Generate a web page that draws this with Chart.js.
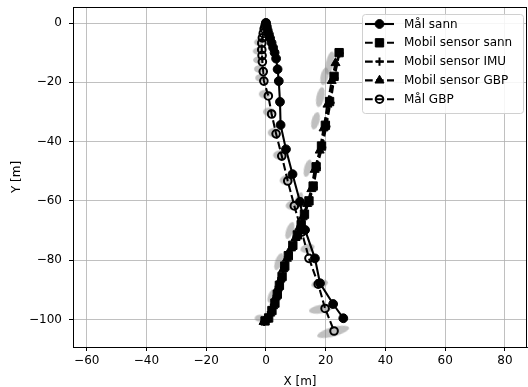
<!DOCTYPE html>
<html>
<head>
<meta charset="utf-8">
<script src="https://cdn.jsdelivr.net/npm/chart.js@4/dist/chart.umd.min.js"></script>
<style>
html,body{margin:0;padding:0;background:#fff;}
#wrap{width:528px;height:387px;position:relative;}
</style>
</head>
<body>
<div id="wrap"><canvas id="c" width="528" height="387"></canvas></div>
<script>
// ---- data (metres) ----
const xTicks = [-60, -40, -20, 0, 20, 40, 60, 80];
const yTicks = [-100, -80, -60, -40, -20, 0];

const labels = ["Mål sann", "Mobil sensor sann", "Mobil sensor IMU", "Mobil sensor GBP", "Mål GBP"];

const malSannX = [0, 0.3, 0.6, 1.0, 1.4, 1.9, 2.4, 2.9, 3.4, 3.9, 4.3, 4.7, 4.9, 6.7, 8.9, 11.4, 13.1, 16.4, 18.1, 22.5, 25.9];
const malSannY = [0, -1.2, -2.5, -3.8, -5.2, -6.7, -8.3, -10.0, -12.0, -15.6, -19.6, -26.6, -34.4, -42.6, -51.0, -60.3, -69.8, -79.4, -87.8, -94.8, -99.6];

const sensSannX = [24.5, 22.8, 21.3, 19.9, 18.6, 16.8, 15.8, 14.4, 12.9, 11.8, 10.5, 9.0, 7.5, 6.3, 5.4, 4.5, 3.8, 3.0, 2.0, 0.9, -0.3];
const sensSannY = [-10.0, -18.0, -26.5, -34.5, -41.5, -48.5, -55.0, -60.0, -64.5, -68.0, -71.5, -75.0, -78.5, -82.0, -85.5, -88.5, -91.5, -94.5, -97.0, -99.5, -100.5];

const sensImuX = [24.6, 22.9, 21.6, 20.2, 18.8, 17.0, 15.9, 14.3, 12.8, 11.6, 10.3, 8.9, 7.4, 6.1, 5.2, 4.3, 3.6, 2.7, 1.7, 0.6, -0.6];
const sensImuY = [-10.2, -18.6, -26.9, -34.9, -42.0, -49.0, -55.5, -60.6, -65.0, -68.6, -72.0, -75.6, -79.0, -82.6, -86.0, -89.0, -92.0, -95.0, -97.5, -99.8, -100.8];

const sensGbpX = [23.3, 22.0, 20.6, 19.3, 18.0, 16.3, 15.2, 13.8, 12.3, 11.2, 9.9, 8.4, 7.0, 5.8, 4.9, 4.0, 3.3, 2.4, 1.4, 0.3, -0.8];
const sensGbpY = [-13.5, -19.5, -27.5, -35.5, -43.0, -49.5, -56.0, -61.0, -65.5, -69.0, -72.5, -76.0, -79.5, -83.0, -86.5, -89.5, -92.5, -95.5, -98.0, -100.0, -100.8];

const malGbpX = [0, -0.3, -0.6, -0.9, -1.2, -1.4, -1.4, -1.3, -1.2, -0.9, -0.7, 0.8, 1.9, 3.4, 5.3, 7.3, 9.5, 12.0, 14.4, 17.5, 19.8, 22.8];
const malGbpY = [0, -1.0, -2.0, -3.5, -5.0, -6.8, -9.0, -11.0, -13.1, -16.4, -19.6, -24.6, -30.7, -37.4, -44.9, -53.3, -61.7, -70.5, -79.4, -88.1, -96.3, -103.9];

// uncertainty ellipses: centre, semi-axes (m), tilt (deg)
const ellX = [-2.4, -2.6, -2.5, -2.2, -1.8, -0.4, 1.0, 2.6, 4.6, 6.8, 9.0, 11.6, 13.9, 18.0, 18.4, 22.5, 21.4, 19.6, 18.2, 16.6, 14.0, 11.0, 8.0, 4.3, 2.0, -2.0];
const ellY = [-6.5, -9.5, -12.5, -15.5, -18.5, -24.0, -30.0, -37.0, -44.5, -53.0, -61.5, -70.0, -76.0, -88.0, -96.5, -104.2, -13.5, -18.0, -25.0, -33.0, -49.0, -60.0, -70.0, -80.5, -92.0, -99.6];
const ellA = [1.6, 1.8, 1.8, 1.8, 1.8, 2.0, 2.0, 2.0, 2.2, 2.2, 2.4, 2.6, 2.4, 2.8, 4.0, 5.5, 1.3, 1.3, 1.3, 1.3, 1.2, 1.2, 1.2, 1.2, 1.2, 1.8];
const ellB = [1.2, 1.2, 1.2, 1.3, 1.3, 1.4, 1.4, 1.5, 1.5, 1.6, 1.6, 1.6, 1.4, 1.4, 1.4, 1.6, 4.0, 3.0, 3.5, 3.0, 3.0, 3.0, 3.0, 3.0, 2.5, 1.2];
const ellAng = [0, 0, 0, 0, 0, 0, 0, 0, -5, -5, -5, -10, -15, -10, -10, -15, 12, 12, 12, 15, 15, 18, 20, 20, 25, 0];

function pts(xs, ys) { return xs.map((x, i) => ({x: x, y: ys[i]})); }
function fmt(v) { return v < 0 ? '\u2212' + Math.abs(v) : String(v); }

const ellipseCache = {};
function ellipseStyle(ctx) {
  if (ctx.type !== 'data') return 'circle';
  const sx = ctx.chart.scales.x, sy = ctx.chart.scales.y;
  const kx = Math.abs(sx.getPixelForValue(1) - sx.getPixelForValue(0));
  const ky = Math.abs(sy.getPixelForValue(1) - sy.getPixelForValue(0));
  const i = ctx.dataIndex;
  const w = Math.max(2, 2 * ellA[i] * kx), h = Math.max(2, 2 * ellB[i] * ky);
  const key = i + ':' + w.toFixed(1) + ':' + h.toFixed(1);
  if (ellipseCache[key]) return ellipseCache[key];
  const cv = document.createElement('canvas');
  cv.width = Math.ceil(w) + 2; cv.height = Math.ceil(h) + 2;
  const g = cv.getContext('2d');
  g.fillStyle = 'rgba(140,140,140,0.55)';
  g.beginPath();
  g.ellipse(cv.width / 2, cv.height / 2, w / 2, h / 2, 0, 0, Math.PI * 2);
  g.fill();
  ellipseCache[key] = cv;
  return cv;
}

const LW = 2.08;
const DASH = [7.7, 3.3];
const FONT = {family: '"DejaVu Sans"', size: 12};

const datasets = [
  {label: labels[0], data: pts(malSannX, malSannY), showLine: true, borderColor: '#000', borderWidth: LW,
   pointStyle: 'circle', pointRadius: 4.4, pointBackgroundColor: '#000', pointBorderColor: '#000', pointBorderWidth: 1, order: 5},
  {label: labels[1], data: pts(sensSannX, sensSannY), showLine: true, borderColor: '#000', borderWidth: LW, borderDash: DASH,
   pointStyle: 'rect', pointRadius: 5.9, pointBackgroundColor: '#000', pointBorderColor: '#000', pointBorderWidth: 1, order: 4},
  {label: labels[2], data: pts(sensImuX, sensImuY), showLine: true, borderColor: '#000', borderWidth: LW, borderDash: DASH,
   pointStyle: 'cross', pointRadius: 4.2, pointBackgroundColor: '#000', pointBorderColor: '#000', pointBorderWidth: 2, order: 3},
  {label: labels[3], data: pts(sensGbpX, sensGbpY), showLine: true, borderColor: '#000', borderWidth: LW, borderDash: DASH,
   pointStyle: 'triangle', pointRadius: 5.2, pointBackgroundColor: '#000', pointBorderColor: '#000', pointBorderWidth: 1, order: 2},
  {label: labels[4], data: pts(malGbpX, malGbpY), showLine: true, borderColor: '#000', borderWidth: LW, borderDash: DASH,
   pointStyle: 'circle', pointRadius: 3.8, pointBackgroundColor: 'rgba(0,0,0,0)', pointBorderColor: '#000', pointBorderWidth: 2, order: 1},
  {label: 'ellipses', data: pts(ellX, ellY), showLine: false, pointStyle: ellipseStyle, pointRadius: 3,
   rotation: (ctx) => (ctx.type === 'data' ? ellAng[ctx.dataIndex] : 0), order: 10}
];

const framePlugin = {
  id: 'frame',
  afterDatasetsDraw(chart) {
    const {ctx, chartArea: a} = chart;
    ctx.save();
    ctx.strokeStyle = '#000';
    ctx.lineWidth = 1;
    ctx.strokeRect(Math.round(a.left) + 0.5, Math.round(a.top) + 0.5, Math.round(a.right - a.left) - 1, Math.round(a.bottom - a.top));
    ctx.restore();
  }
};

const legendPlugin = {
  id: 'mplLegend',
  afterDraw(chart) {
    const ctx = chart.ctx;
    const a = chart.chartArea;
    const boxR = a.right - 4, boxT = a.top + 7;
    const boxW = 161, rowH = 18.8, boxH = 99;
    const boxL = boxR - boxW;
    ctx.save();
    ctx.fillStyle = 'rgba(255,255,255,0.85)';
    ctx.strokeStyle = '#d0d0d0';
    ctx.lineWidth = 1;
    ctx.beginPath();
    if (ctx.roundRect) ctx.roundRect(boxL + 0.5, boxT + 0.5, boxW, boxH, 3); else ctx.rect(boxL + 0.5, boxT + 0.5, boxW, boxH);
    ctx.fill(); ctx.stroke();
    ctx.font = '12px "DejaVu Sans"';
    ctx.textBaseline = 'middle';
    for (let i = 0; i < 5; i++) {
      const ds = chart.data.datasets[i];
      const y = boxT + 10 + i * rowH;
      const x0 = boxL + 3, x1 = boxL + 32, xm = (x0 + x1) / 2;
      ctx.strokeStyle = '#000';
      ctx.lineWidth = LW;
      ctx.setLineDash(ds.borderDash || []);
      ctx.beginPath(); ctx.moveTo(x0, y); ctx.lineTo(x1, y); ctx.stroke();
      ctx.setLineDash([]);
      ctx.fillStyle = ds.pointBackgroundColor;
      ctx.strokeStyle = ds.pointBorderColor;
      ctx.lineWidth = ds.pointBorderWidth;
      Chart.helpers.drawPoint(ctx, {pointStyle: ds.pointStyle, radius: ds.pointRadius, rotation: 0, borderWidth: ds.pointBorderWidth}, xm, y);
      ctx.fillStyle = '#000';
      ctx.fillText(ds.label, boxL + 42, y + 0.5);
    }
    ctx.restore();
  }
};

new Chart(document.getElementById('c'), {
  type: 'scatter',
  data: {datasets: datasets},
  options: {
    responsive: false,
    animation: false,
    events: [],
    layout: {autoPadding: false, padding: {top: 7, right: 1, left: 0, bottom: 0}},
    plugins: {legend: {display: false}, tooltip: {enabled: false}},
    elements: {line: {tension: 0}},
    scales: {
      x: {
        type: 'linear', min: -64.6, max: 87.4,
        afterBuildTicks: (s) => { s.ticks = xTicks.map(v => ({value: v})); },
        afterFit: (s) => { s.height = 40; s.paddingLeft = 0; s.paddingRight = 0; },
        ticks: {color: '#000', font: FONT, padding: 3, maxRotation: 0, autoSkip: false, callback: (v) => fmt(v)},
        grid: {color: '#b0b0b0', lineWidth: 0.8, tickColor: '#000', tickLength: 4, tickWidth: 1},
        border: {color: '#000', width: 1},
        title: {display: true, text: 'X [m]', color: '#000', font: FONT, padding: {top: 0, bottom: -2}}
      },
      y: {
        type: 'linear', min: -109.3, max: 5.4,
        afterBuildTicks: (s) => { s.ticks = yTicks.map(v => ({value: v})); },
        afterFit: (s) => { s.width = 73; s.paddingTop = 0; s.paddingBottom = 0; },
        ticks: {color: '#000', font: FONT, padding: 7, autoSkip: false, callback: (v) => fmt(v)},
        grid: {color: '#b0b0b0', lineWidth: 0.8, tickColor: '#000', tickLength: 4, tickWidth: 1},
        border: {color: '#000', width: 1},
        title: {display: true, text: 'Y [m]', color: '#000', font: FONT, padding: {top: 10, bottom: 0}}
      }
    }
  },
  plugins: [framePlugin, legendPlugin]
});
</script>
</body>
</html>
